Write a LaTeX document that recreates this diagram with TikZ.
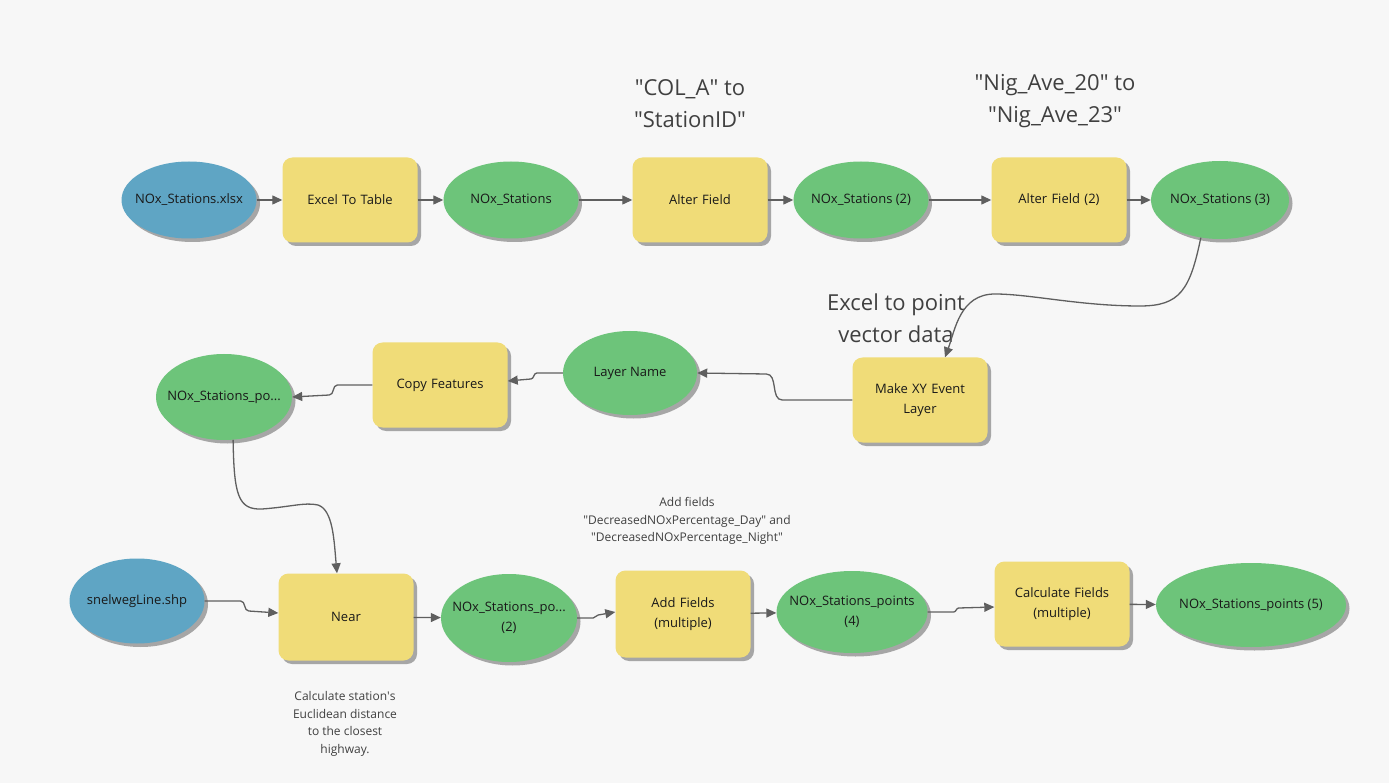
\documentclass[tikz,border=0pt]{standalone}
\usepackage{fontspec}
\setmainfont{Open Sans}
\usepackage{tikz}
\usetikzlibrary{shapes.geometric, arrows.meta, positioning, shadows}
\usepackage{xcolor}
\definecolor{inputblue}{HTML}{5FA5C4}
\definecolor{outgreen}{HTML}{6DC47A}
\definecolor{toolyellow}{HTML}{F0DC78}
\definecolor{linkgray}{HTML}{5F5F5F}
\definecolor{canvasgray}{HTML}{F7F7F7}
\definecolor{notegray}{HTML}{404040}
\newcommand{\qt}{\textquotedbl}

\begin{document}
\begin{tikzpicture}[
    x=1pt, y=-1pt,
    node distance=161pt,
    castshadow/.style={general shadow={fill=black!35, shadow xshift=3.5pt, shadow yshift=-3.5pt}},
    toolbox/.style={rectangle, rounded corners=10pt, fill=toolyellow, castshadow, text width=125pt, align=center, minimum width=135pt, minimum height=85pt, inner sep=0pt, text=black!90, font=\fontsize{13}{20}\selectfont},
    inputdata/.style={ellipse, fill=inputblue, castshadow, minimum width=135pt, minimum height=80pt, inner xsep=-25pt, inner ysep=0pt, align=center, text=black!90, font=\fontsize{13}{20}\selectfont},
    outdata/.style={inputdata, fill=outgreen},
    arrow/.style={-{Triangle[length=10pt, width=9pt]}, linkgray, line width=1.3pt},
    bignote/.style={text=notegray, align=center, font=\fontsize{22}{32}\selectfont},
    smallnote/.style={text=notegray, align=center, font=\fontsize{12}{17.5}\selectfont}
]

\fill [canvasgray] (0,0) rectangle (1389,783);

\node (xlsx) [inputdata, minimum height=77pt] at (189,200) {NOx\_Stations.xlsx};
\node (ett) [toolbox, right of=xlsx] {Excel To Table};
\node (nox1) [outdata, minimum height=77pt, right of=ett] {NOx\_Stations};
\node (alter1) [toolbox, right of=nox1, xshift=28pt] {Alter Field};
\node (nox2) [outdata, minimum height=77pt, right of=alter1] {NOx\_Stations (2)};
\node (alter2) [toolbox, right of=nox2, xshift=37pt] {Alter Field (2)};
\node (nox3) [outdata, minimum width=138pt, minimum height=78pt, right of=alter2] {NOx\_Stations (3)};

\node (colnote) [bignote] at (690,104) {\qt COL\_A\qt{} to\\\qt StationID\qt};
\node (nignote) [bignote] at (1055,101) {\qt Nig\_Ave\_20\qt{} to\\\qt Nig\_Ave\_23\qt};

\node (nopo) [outdata, minimum width=136pt, minimum height=86pt] at (224,397) {NOx\_Stations\_po...};
\node (copy) [toolbox] at (440,385) {Copy Features};
\node (lname) [outdata, minimum width=134pt, minimum height=84pt] at (630,373) {Layer Name};
\node (mxy) [toolbox] at (920,400) {Make XY Event\\Layer};
\node (xlnote) [bignote] at (896,318) {Excel to point\\vector data};

\node (snel) [inputdata, minimum height=85pt] at (137,601) {snelwegLine.shp};
\node (near) [toolbox, minimum height=87pt] at (346,617) {Near};
\node (nopo2) [outdata, minimum width=136pt, minimum height=88pt] at (509,618) {NOx\_Stations\_po...\\(2)};
\node (addf) [toolbox, minimum height=87pt] at (683,614) {Add Fields\\(multiple)};
\node (np4) [outdata, minimum width=151pt, minimum height=82pt] at (852,612) {NOx\_Stations\_points\\(4)};
\node (calc) [toolbox] at (1062,604) {Calculate Fields\\(multiple)};
\node (np5) [outdata, minimum width=190pt, minimum height=84pt] at (1251,605) {NOx\_Stations\_points (5)};

\node (addnote) [smallnote] at (687,521) {Add fields\\\qt DecreasedNOxPercentage\_Day\qt{} and\\\qt DecreasedNOxPercentage\_Night\qt};
\node (nearnote) [smallnote] at (345,724) {Calculate station\textquotesingle s\\Euclidean distance\\to the closest\\highway.};

\draw [arrow] (xlsx) -- (ett);
\draw [arrow] (ett) -- (nox1);
\draw [arrow] (nox1) -- (alter1);
\draw [arrow] (alter1) -- (nox2);
\draw [arrow] (nox2) -- (alter2);
\draw [arrow] (alter2) -- (nox3);
\draw [arrow] (nox3.243) .. controls (1190,290) and (1180,306) .. (1140,306) .. controls (1080,306) and (1030,294) .. (995,294) .. controls (960,294) and (955,330) .. ([xshift=25pt]mxy.north);
\draw [arrow] (mxy.west) -- ++(-70,0) to[out=180, in=0] ++(-16,-26) -- (lname.east);
\draw [arrow] (lname.west) -- ++(-26,0) to[out=180, in=0] ++(-6,6) -- ([yshift=4pt]copy.east);
\draw [arrow] (copy.west) -- ++(-35,0) to[out=180, in=0] ++(-8,10) -- (nopo.east);
\draw [arrow] (nopo.282) .. controls (234,495) and (238,510) .. (262,509) .. controls (290,507) and (305,502) .. (318,505) .. controls (333,510) and (334,540) .. ([xshift=-9pt]near.north);
\draw [arrow] (snel.east) -- ++(36,0) to[out=0, in=180] ++(8,10) -- ([yshift=4pt]near.west);
\draw [arrow] (near) -- (nopo2);
\draw [arrow] (nopo2.east) -- ++(16,0) to[out=0, in=180] ++(5,-3) -- ([yshift=2pt]addf.west);
\draw [arrow] (addf) -- (np4);
\draw [arrow] (np4.east) -- ++(26,0) to[out=0, in=180] ++(5,-4) -- ([yshift=-3pt]calc.west);
\draw [arrow] (calc) -- (np5);

\end{tikzpicture}
\end{document}
